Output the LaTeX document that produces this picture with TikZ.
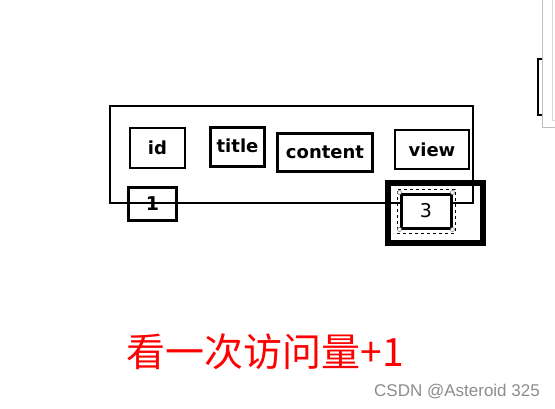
\documentclass[tikz,border=0pt]{standalone}
\usepackage{fontspec}
\setmainfont{DejaVu Sans}
\newfontfamily\cjk{Noto Sans CJK SC}
\newfontfamily\wmfont{Liberation Sans}
\definecolor{wmgray}{rgb}{0.55,0.55,0.55}
\definecolor{edgegray}{rgb}{0.75,0.75,0.75}
\tikzset{
    field/.style={
           rectangle,
           draw=black, line width=2.5pt,
           inner sep=0pt,
           text centered,
           font=\fontsize{18}{21}\selectfont,
           },
    handle/.style={
           circle,
           draw=gray, fill=white, line width=0.6pt,
           inner sep=0pt, minimum size=4pt,
           },
}
\newcommand{\field}[1]{\textbf{#1}}
\newcommand{\Id}     {\field{id}}
\newcommand{\Title}  {\field{title}}
\newcommand{\Content}{\field{content}}
\newcommand{\View}   {\field{view}}

\begin{document}
\begin{tikzpicture}[x=1pt, y=-1pt]
  \useasboundingbox (0,0) rectangle (555,408);
  \node[field, line width=2pt, minimum width=363pt, minimum height=97pt] (row)   at (291.5,154.5) {};
  \node[field, minimum width=55pt, minimum height=40pt]                  (id)    at (157.5,148)   {\Id};
  \node[field, line width=3pt, minimum width=54pt, minimum height=39pt]  (title) at (237.5,147)   {\raisebox{2pt}{\Title}};
  \node[field, minimum width=95pt, minimum height=38pt]                  (cont)  at (325,152.5)   {\Content};
  \node[field, line width=2pt, minimum width=74pt, minimum height=39pt]  (view)  at (432,149.5)   {\View};
  \node[field, minimum width=48pt, minimum height=33pt, font=\fontsize{19}{22}\selectfont] (one) at (152.5,204) {\field{1}};
  \node[field, line width=6pt, minimum width=95pt, minimum height=60pt]  (cell)  at (435.5,213)   {};
  \node[field, line width=3pt, fill=white, minimum width=50pt, minimum height=34pt, font=\fontsize{19}{22}\selectfont] (three) at (426,211) {3};
  \node[draw, dashed, line width=0.8pt, minimum width=58pt, minimum height=44pt] (sel) at (426,211) {};
  \node[handle] (h1) at (three.north west) {};
  \node[handle] (h2) at (three.north east) {};
  \node[handle] (h3) at (three.south west) {};
  \node[handle] (h4) at (three.south east) {};
  \node[red, font=\cjk\fontsize{39}{42}\selectfont] (note) at (265.5,352) {看一次访问量+1};
  \node[wmgray, font=\wmfont\fontsize{17}{20}\selectfont] (wm) at (457,392) {CSDN @Asteroid 325};
  \draw[edgegray, line width=1pt] (542,0) -- (542,127) -- (555,127);
  \draw[edgegray!60, line width=1pt] (552,0) -- (552,120) -- (555,120);
  \draw[line width=2pt] (542,59) -- (538,59) -- (538,115) -- (542,115);
\end{tikzpicture}
\end{document}
